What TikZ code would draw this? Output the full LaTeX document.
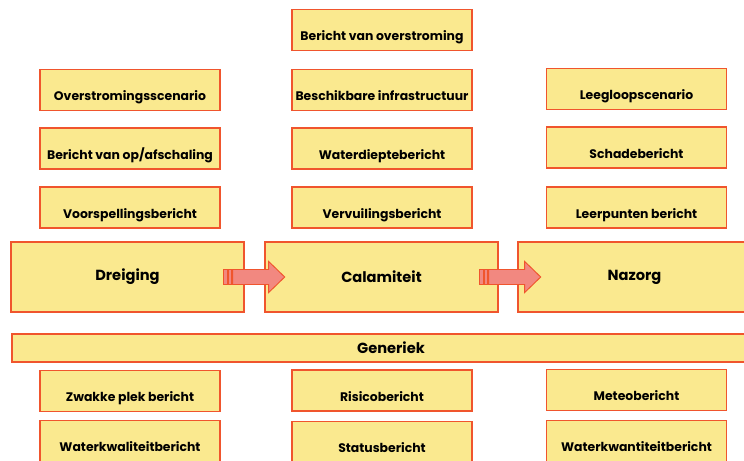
\documentclass[tikz,border=0pt]{standalone}
\usepackage{fontspec}
\setmainfont{Poppins}
\definecolor{geel}{HTML}{FAE98F}
\definecolor{rand}{HTML}{F0552D}
\definecolor{zalm}{HTML}{F28880}

\begin{document}
\begin{tikzpicture}[x=0.03cm,y=-0.03cm,
  blok/.style={draw=rand,fill=geel,line width=1.2pt,inner sep=0pt,
    font=\bfseries\fontsize{12.5}{15}\selectfont},
  fase/.style={blok,minimum width=6.99cm,minimum height=2.1cm},
  bericht/.style={blok,minimum width=5.4cm,minimum height=1.23cm,
    text height=18pt,text depth=0pt,font=\bfseries\fontsize{10.6}{12}\selectfont},
  pijl/.style={draw=rand,fill=zalm,line width=0.8pt}]

\useasboundingbox (0,0) rectangle (744,461);
\clip (0,0) rectangle (744,461);

% fasen
\node[fase] (dreiging) at (127.5,277) {Dreiging};
\node[fase] (calamiteit) at (381.5,277) {Calamiteit};
\node[fase] (nazorg) at (634.5,277) {Nazorg};

\node[blok,minimum width=22.74cm,minimum height=0.84cm] (generiek) at (391,348) {Generiek};

% berichten dreiging
\node[bericht] (scenario) at (130,90) {Overstromingsscenario};
\node[bericht] (opschaling) at (130,148.5) {Bericht van op/afschaling};
\node[bericht] (voorspelling) at (130,207.5) {Voorspellingsbericht};

% berichten calamiteit
\node[bericht] (overstroming) at (382,30) {Bericht van overstroming};
\node[bericht] (infra) at (382,90) {Beschikbare infrastructuur};
\node[bericht] (waterdiepte) at (382,148.5) {Waterdieptebericht};
\node[bericht] (vervuiling) at (382,207.5) {Vervuilingsbericht};

% berichten nazorg
\node[bericht] (leegloop) at (636.5,89) {Leegloopscenario};
\node[bericht] (schade) at (636.5,147.5) {Schadebericht};
\node[bericht] (leerpunten) at (636.5,207.5) {Leerpunten bericht};

% generieke berichten
\node[bericht] (zwakkeplek) at (130,391) {Zwakke plek bericht};
\node[bericht] (kwaliteit) at (130,441) {Waterkwaliteitbericht};
\node[bericht] (risico) at (382,390.5) {Risicobericht};
\node[bericht] (status) at (382,442) {Statusbericht};
\node[bericht] (meteo) at (636.5,390) {Meteobericht};
\node[bericht] (kwantiteit) at (636.5,441) {Waterkwantiteitbericht};

% pijlen
\draw[pijl] (dreiging.east) ++(-21,-7.5) rectangle ++(4,15);
\draw[pijl] (dreiging.east) ++(-16.5,-7.5) rectangle ++(3.5,15);
\draw[pijl] (dreiging.east) ++(-12,-7.5) -- ++(36,0) -- ++(0,-8) -- ++(16,15.5)
  -- ++(-16,15.5) -- ++(0,-8) -- ++(-36,0) -- cycle;

\draw[pijl] (calamiteit.east) ++(-19,-7.5) rectangle ++(4,15);
\draw[pijl] (calamiteit.east) ++(-14.5,-7.5) rectangle ++(3.5,15);
\draw[pijl] (calamiteit.east) ++(-10,-7.5) -- ++(36,0) -- ++(0,-8) -- ++(16,15.5)
  -- ++(-16,15.5) -- ++(0,-8) -- ++(-36,0) -- cycle;

\end{tikzpicture}
\end{document}
